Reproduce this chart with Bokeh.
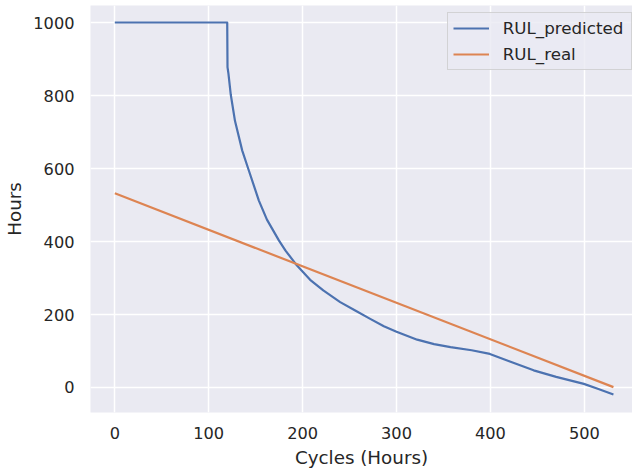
from bokeh.plotting import figure
from bokeh.models import Range1d, FixedTicker, Legend, LegendItem
from bokeh.embed import file_html
from bokeh.resources import INLINE

# Data
cycles_pred = [0, 119.7, 120, 121, 123.5, 128, 135.7, 142, 153.4, 162, 174.7, 181.8,
               194, 208, 222, 240, 256, 272, 286.5, 300, 322, 340, 357.5, 380, 399.4,
               420, 446, 470, 499.5, 515, 531]
rul_pred = [1000, 1000, 878, 860, 802, 730, 649, 600, 512, 460, 403, 375,
            334, 295, 266, 234, 211, 188, 168, 153, 131, 119, 110.5, 102, 92,
            72, 47, 29, 10, -4, -19]

cycles_real = [0, 531]
rul_real = [532, 1]

x_ticks = [0, 100, 200, 300, 400, 500]
y_ticks = [0, 200, 400, 600, 800, 1000]

FONT = "DejaVu Sans"
TXT = "#262626"

p = figure(width=632, height=474,
           x_range=Range1d(-25.9, 551.3), y_range=Range1d(-68.5, 1046.6),
           output_backend="svg", toolbar_location=None,
           min_border_left=90, min_border_right=0, min_border_top=5, min_border_bottom=62)
p.background_fill_color = "#EAEAF2"
p.border_fill_color = "white"
p.outline_line_color = None

for ax in (p.xaxis[0], p.yaxis[0]):
    ax.axis_line_color = None
    ax.major_tick_line_color = None
    ax.minor_tick_line_color = None
    ax.major_tick_out = 0
    ax.major_tick_in = 0
    ax.major_label_text_font = FONT
    ax.major_label_text_font_size = "16.2px"
    ax.major_label_text_color = TXT
    ax.axis_label_text_font = FONT
    ax.axis_label_text_font_size = "18.3px"
    ax.axis_label_text_font_style = "normal"
    ax.axis_label_text_color = TXT

p.xaxis.ticker = FixedTicker(ticks=x_ticks)
p.yaxis.ticker = FixedTicker(ticks=y_ticks)
p.xaxis.axis_label = "Cycles (Hours)"
p.yaxis.axis_label = "Hours"
p.xaxis.major_label_standoff = 14
p.yaxis.major_label_standoff = 16
p.xaxis.axis_label_standoff = 5
p.yaxis.axis_label_standoff = 5

for g in (p.xgrid[0], p.ygrid[0]):
    g.grid_line_color = "white"
    g.grid_line_width = 1.5
p.xgrid.ticker = FixedTicker(ticks=x_ticks)
p.ygrid.ticker = FixedTicker(ticks=y_ticks)

r1 = p.line(cycles_pred, rul_pred, line_color="#4C72B0", line_width=2.2, line_join="round")
r2 = p.line(cycles_real, rul_real, line_color="#DD8452", line_width=2.2, line_join="round")

legend = Legend(items=[LegendItem(label="RUL_predicted", renderers=[r1]),
                       LegendItem(label="RUL_real", renderers=[r2])],
                location=(356.7, 341.7))
legend.label_text_font = FONT
legend.label_text_font_size = "16.7px"
legend.label_text_color = TXT
legend.border_line_color = "#CCCCCC"
legend.border_line_alpha = 0.8
legend.background_fill_color = "#EAEAF2"
legend.background_fill_alpha = 0.8
legend.glyph_width = 36
legend.glyph_height = 20
legend.label_height = 20
legend.label_width = 123
legend.label_standoff = 14
legend.padding = 5
legend.spacing = 6
legend.margin = 0
p.add_layout(legend)

open("out.html", "w").write(file_html(p, INLINE))
